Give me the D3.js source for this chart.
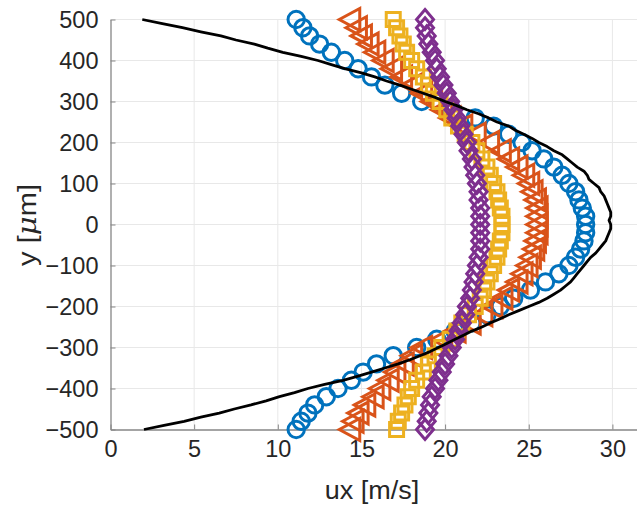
<!DOCTYPE html>
<html><head><meta charset="utf-8">
<script src="https://cdn.jsdelivr.net/npm/d3@7"></script>
<style>body{margin:0;background:#fff}svg{display:block}</style>
</head><body>
<svg id="c" width="637" height="511"></svg>
<script>
// y positions (μm) for marker series, from top to bottom
const yPts = [500,480,460,440,420,400,380,360,340,320,300,280,260,240,220,200,180,160,140,120,100,80,60,40,20,0,
  -20,-40,-60,-80,-100,-120,-140,-160,-180,-200,-220,-240,-260,-280,-300,-320,-340,-360,-380,-400,-420,-440,-460,-480,-500];
const circleUx = [11.1,11.5,11.9,12.5,13.2,14.0,14.8,15.6,16.4,17.4,18.6,20.4,21.8,22.9,23.8,24.6,25.2,25.9,26.5,27.0,27.4,27.8,28.0,28.2,28.4,28.4,
  28.4,28.3,28.1,27.8,27.4,26.8,26.0,25.1,24.1,23.3,22.5,21.6,20.6,19.5,18.3,16.9,15.9,15.1,14.4,13.6,12.9,12.2,11.8,11.4,11.1];
const triangleUx = [14.3,14.7,15.0,15.4,15.8,16.3,16.8,17.4,18.0,18.6,19.2,19.8,20.3,21.0,21.8,22.6,23.3,23.8,24.3,24.7,25.0,25.2,25.4,25.5,25.5,25.5,
  25.5,25.4,25.3,25.1,24.9,24.6,24.3,23.8,23.4,22.8,22.2,21.5,20.6,19.8,18.6,18.0,17.5,17.0,16.6,16.1,15.7,15.2,14.8,14.5,14.3];
const squareUx = [16.9,17.1,17.3,17.5,17.7,18.0,18.3,18.7,19.0,19.3,19.7,20.1,20.4,20.8,21.2,21.6,21.9,22.2,22.5,22.7,22.9,23.1,23.2,23.3,23.4,23.4,
  23.4,23.3,23.2,23.1,22.9,22.7,22.5,22.3,22.1,21.8,21.4,21.0,20.7,20.3,19.8,19.4,19.0,18.7,18.3,18.0,17.8,17.6,17.4,17.2,17.1];
const diamondUx = [18.8,18.8,18.9,19.0,19.2,19.4,19.5,19.7,19.9,20.1,20.3,20.5,20.7,20.9,21.1,21.3,21.4,21.6,21.7,21.8,21.9,22.0,22.0,22.1,22.1,22.1,
  22.1,22.1,22.1,22.0,21.9,21.8,21.7,21.6,21.5,21.3,21.2,21.0,20.8,20.6,20.4,20.2,20.0,19.8,19.6,19.4,19.2,19.1,19.0,18.9,18.8];
// black measured profile
const lineY = [500,490,480,470,460,450,440,430,420,410,400,390,380,370,360,350,340,330,320,310,300,290,280,270,260,250,240,230,220,210,200,190,180,170,160,150,140,130,120,110,100,90,80,70,60,50,40,30,20,10,0,
  -10,-20,-30,-40,-50,-60,-70,-80,-90,-100,-110,-120,-130,-140,-150,-160,-170,-180,-190,-200,-210,-220,-230,-240,-250,-260,-270,-280,-290,-300,-310,-320,-330,-340,-350,-360,-370,-380,-390,-400,-410,-420,-430,-440,-450,-460,-470,-480,-490,-500];
const lineUx = [1.9,3.1,4.3,5.4,6.6,7.5,8.6,9.4,10.3,11.4,12.4,13.2,14.0,15.0,15.8,16.5,17.3,18.0,18.7,19.4,20.0,20.7,21.3,22.0,22.6,23.1,23.8,24.2,24.7,25.2,25.6,26.1,26.5,27.0,27.3,27.6,27.9,28.3,28.5,28.6,28.9,29.2,29.3,29.5,29.6,29.7,29.8,29.9,29.9,29.8,29.9,
  29.9,29.8,29.7,29.6,29.4,29.2,29.0,28.7,28.5,28.3,28.1,27.9,27.7,27.5,27.2,26.9,26.5,26.1,25.6,25.0,24.4,23.8,23.3,22.7,22.2,21.6,21.1,20.6,20.1,19.6,19.1,18.5,17.9,17.2,16.4,15.6,14.8,13.9,12.8,11.8,11.0,10.1,9.3,8.4,7.4,6.5,5.4,4.4,3.2,2.0];
const xTicks = [0,5,10,15,20,25,30];
const yTicks = [500,400,300,200,100,0,-100,-200,-300,-400,-500];
const colors = {circle:"#0072BD", triangle:"#D95319", square:"#EDB120", diamond:"#7E2F8E"};

const svg = d3.select("#c");
const L = 110.5, T = 19.5, H = 410, R = 637.5;
const x = d3.scaleLinear().domain([0,31.5]).range([L, R]);
const y = d3.scaleLinear().domain([-500,500]).range([T+H, T]);
const font = "Liberation Sans, Arial, Helvetica, sans-serif";
const tc = "#262626";

// grid
svg.append("g").selectAll("line").data(xTicks.filter(d=>d>0)).join("line")
  .attr("x1",d=>x(d)).attr("x2",d=>x(d)).attr("y1",T).attr("y2",T+H)
  .attr("stroke","#e8e8e8").attr("stroke-width",1);
svg.append("g").selectAll("line").data(yTicks.filter(d=>d>-500)).join("line")
  .attr("x1",L).attr("x2",R).attr("y1",d=>y(d)).attr("y2",d=>y(d))
  .attr("stroke","#e8e8e8").attr("stroke-width",1);

// axes
const xAxis = d3.axisBottom(x).tickValues(xTicks).tickSizeInner(-5).tickSizeOuter(0).tickPadding(12);
const yAxis = d3.axisLeft(y).tickValues(yTicks).tickSizeInner(-5).tickSizeOuter(0).tickPadding(12);
const gx = svg.append("g").attr("transform",`translate(0,${T+H})`).call(xAxis);
const gy = svg.append("g").attr("transform",`translate(${L},0)`).call(yAxis);
[gx,gy].forEach(g=>{
  g.select(".domain").attr("stroke","#868686").attr("stroke-width",1.3);
  g.selectAll(".tick line").attr("stroke","#868686");
  g.selectAll(".tick text").attr("fill",tc).attr("font-family",font).attr("font-size",23.5);
});
gy.selectAll(".tick text").attr("dy","0.36em");
gx.selectAll(".tick text").attr("dy","0.68em");

// markers
const lineW = 3;
function drawSeries(vals, kind){
  const g = svg.append("g").attr("fill","none").attr("stroke",colors[kind]).attr("stroke-width",lineW);
  const pts = vals.map((v,i)=>[x(v), y(yPts[i])]);
  if(kind==="circle"){
    g.selectAll("circle").data(pts).join("circle").attr("cx",d=>d[0]).attr("cy",d=>d[1]).attr("r",8.2);
  } else {
    let p;
    if(kind==="triangle") p = "M-10.5,0L10,-11L10,11Z";
    if(kind==="square") p = "M-7,-7H7V7H-7Z";
    if(kind==="diamond") p = "M0,-10L8.5,0L0,10L-8.5,0Z";
    g.selectAll("path").data(pts).join("path").attr("d",p).attr("transform",d=>`translate(${d[0]},${d[1]})`);
  }
}
drawSeries(circleUx,"circle");
drawSeries(triangleUx,"triangle");
drawSeries(squareUx,"square");
drawSeries(diamondUx,"diamond");

// black profile line
svg.append("path").datum(lineUx.map((v,i)=>[v,lineY[i]]))
  .attr("d", d3.line().x(d=>x(d[0])).y(d=>y(d[1])))
  .attr("fill","none").attr("stroke","#000").attr("stroke-width",2.8).attr("stroke-linejoin","round");

// axis labels
svg.append("text").attr("transform","translate(372,499) scale(1.08,1)").attr("text-anchor","middle")
  .attr("font-family",font).attr("font-size",25).attr("fill",tc).text("ux [m/s]");
const yl = svg.append("text").attr("transform",`translate(36,225) rotate(-90) scale(1.12,1)`).attr("text-anchor","middle")
  .attr("font-family",font).attr("font-size",26).attr("fill",tc);
yl.append("tspan").text("y [");
yl.append("tspan").attr("font-family","DejaVu Serif, Liberation Serif, serif").attr("font-style","italic").text("μ");
yl.append("tspan").text("m]");
</script>
</body></html>
